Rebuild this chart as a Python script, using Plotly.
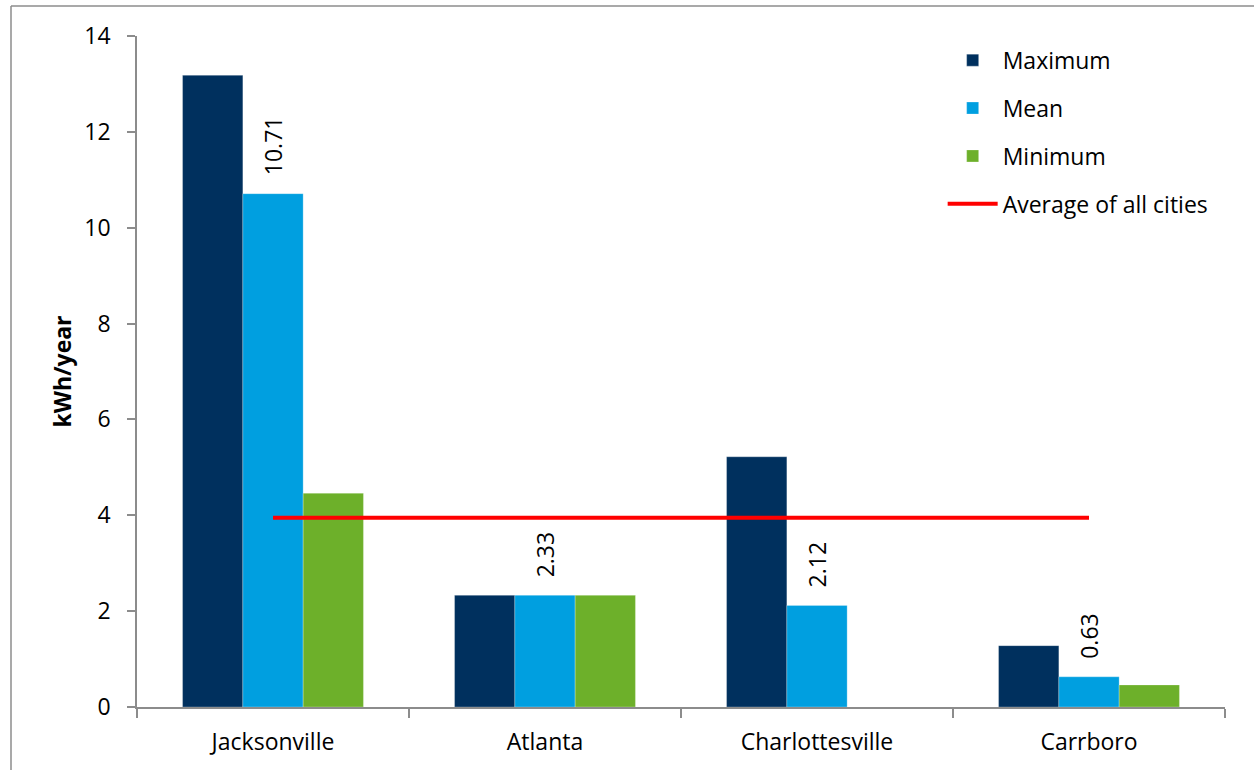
import plotly.graph_objects as go

cities = ["Jacksonville", "Atlanta", "Charlottesville", "Carrboro"]
maximum = [13.18, 2.33, 5.22, 1.28]
mean = [10.71, 2.33, 2.12, 0.63]
minimum = [4.46, 2.33, 0.0, 0.46]
average_all = [3.95, 3.95, 3.95, 3.95]

c_max = "#00305E"
c_mean = "#009FE0"
c_min = "#6DB02A"
c_avg = "#FF0000"

FONT = "Open Sans"
FS = 23
W, H = 1254, 770
L, R, T, B = 137, 29, 36, 63
pw, ph = W - L - R, H - T - B

fig = go.Figure()
fig.add_trace(go.Bar(name="Maximum", x=cities, y=maximum, marker=dict(color=c_max, line=dict(color="rgba(255,255,255,0.5)", width=0.5)),
                     legendgroup="a"))
fig.add_trace(go.Bar(name="Mean", x=cities, y=mean, marker=dict(color=c_mean, line=dict(color="rgba(255,255,255,0.5)", width=0.5)),
                     legendgroup="b"))
fig.add_trace(go.Bar(name="Minimum", x=cities, y=minimum, marker=dict(color=c_min, line=dict(color="rgba(255,255,255,0.5)", width=0.5)),
                     legendgroup="c"))
fig.add_trace(go.Scatter(name="Average of all cities", x=cities, y=average_all, mode="lines",
                         line=dict(color=c_avg, width=4), legendgroup="d"))

# value labels above the Mean bars (middle bar of each group sits at the category centre)
for c, v in zip(cities, mean):
    fig.add_annotation(x=c, y=v, text=f"{v:.2f}", textangle=-90, showarrow=False,
                       xanchor="center", yanchor="bottom", yshift=16,
                       font=dict(family=FONT, size=FS, color="#000000"))

# outer frame (top and left edges visible)
x0 = (11 - L) / pw
x1 = (W - L) / pw
y0 = (T + ph - H) / ph
y1 = (T + ph - 6) / ph
fig.add_shape(type="line", xref="paper", yref="paper", x0=x0, x1=x1, y0=y1, y1=y1, line=dict(color="#8C8C8C", width=1.5))
fig.add_shape(type="line", xref="paper", yref="paper", x0=x0, x1=x0, y0=y0, y1=y1, line=dict(color="#8C8C8C", width=1.5))

fig.update_layout(
    width=W, height=H,
    margin=dict(l=L, r=R, t=T, b=B),
    paper_bgcolor="white", plot_bgcolor="white",
    barmode="group", bargap=0.335, bargroupgap=0,
    font=dict(family=FONT, size=FS, color="#000000"),
    showlegend=True,
    legend=dict(x=0.7405, y=0.996, xanchor="left", yanchor="top", tracegroupgap=15,
                font=dict(family=FONT, size=FS), bgcolor="rgba(0,0,0,0)", itemwidth=50),
    xaxis=dict(showline=True, linecolor="#8C8C8C", linewidth=2, ticks="outside", tickson="boundaries",
               ticklen=9, tickwidth=2, tickcolor="#8C8C8C", showgrid=False, ticklabelstandoff=13,
               tickfont=dict(family=FONT, size=FS)),
    yaxis=dict(range=[0, 14], dtick=2, showline=True, linecolor="#8C8C8C", linewidth=1.5, ticks="outside",
               ticklen=8, tickwidth=1.5, tickcolor="#8C8C8C", showgrid=False, zeroline=False,
               ticklabelstandoff=12, tickfont=dict(family=FONT, size=FS),
               title=dict(text="<b>kWh/year</b>", font=dict(family=FONT, size=FS), standoff=6)),
)

fig.write_html("out.html")
